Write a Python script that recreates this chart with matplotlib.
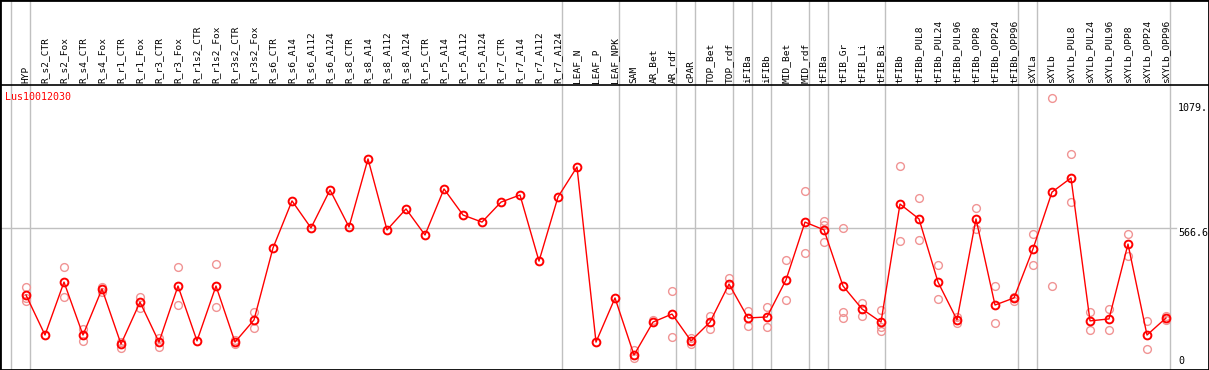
import matplotlib
matplotlib.use('Agg')
import matplotlib.pyplot as plt
import numpy as np

samples = ['HYP', 'R_s2_CTR', 'R_s2_Fox', 'R_s4_CTR', 'R_s4_Fox', 'R_r1_CTR', 'R_r1_Fox',
           'R_r3_CTR', 'R_r3_Fox', 'R_r1s2_CTR', 'R_r1s2_Fox', 'R_r3s2_CTR', 'R_r3s2_Fox',
           'R_s6_CTR', 'R_s6_A14', 'R_s6_A112', 'R_s6_A124', 'R_s8_CTR', 'R_s8_A14',
           'R_s8_A112', 'R_s8_A124', 'R_r5_CTR', 'R_r5_A14', 'R_r5_A112', 'R_r5_A124',
           'R_r7_CTR', 'R_r7_A14', 'R_r7_A112', 'R_r7_A124', 'LEAF_N', 'LEAF_P', 'LEAF_NPK',
           'SAM', 'AR_Bet', 'AR_rdf', 'cPAR', 'TOP_Bet', 'TOP_rdf', 'iFIBa', 'iFIBb',
           'MID_Bet', 'MID_rdf', 'tFIBa', 'tFIB_Gr', 'tFIB_Li', 'tFIB_Bi', 'tFIBb',
           'tFIBb_PUL8', 'tFIBb_PUL24', 'tFIBb_PUL96', 'tFIBb_OPP8', 'tFIBb_OPP24', 'tFIBb_OPP96',
           'sXYLa', 'sXYLb', 'sXYLb_PUL8', 'sXYLb_PUL24', 'sXYLb_PUL96', 'sXYLb_OPP8',
           'sXYLb_OPP24', 'sXYLb_OPP96']

# mean expression per sample
means = [291, 127, 344, 127, 316, 90, 262, 98, 328, 103, 328, 98, 189,
         484, 677, 566, 722, 570, 849, 558, 644, 537, 726, 619, 590, 672, 701, 430, 693,
         816, 98, 279, 45, 180, 213, 103, 180, 336, 197, 201, 353, 590, 558, 328, 234, 180,
         664, 603, 344, 189, 603, 250, 279, 480, 713, 771, 185, 193, 500, 127, 197]

# replicate values (where visible)
reps = [[324, 279, 266], [], [406, 283], [152, 103], [324, 303], [98, 74], [283, 238],
        [115, 78], [406, 250], [], [418, 242], [107, 90], [221, 156],
        [], [], [], [], [], [], [], [], [], [], [], [], [], [], [], [],
        [], [], [], [66, 33], [189], [308, 119], [115, 90], [205, 152], [361, 312],
        [226, 164], [242, 160], [435, 271], [718, 463], [595, 578, 508], [566, 221, 197],
        [258, 205], [230, 160, 144], [820, 513], [689, 517], [414, 275], [201, 176],
        [648, 562], [328, 176], [283, 266], [541, 414], [1099, 328], [869, 672],
        [221, 148], [234, 148], [541, 451], [185, 70], [205, 189]]

# last sample index of each group (vertical separators)
group_ends = [-1, 0, 28, 31, 34, 35, 37, 38, 39, 41, 42, 45, 52, 53, 60]

ytick_vals = [0, 566.6, 1079]
ytick_txt = ['0', '566.6', '1079.']
gene = 'Lus10012030'

W, H = 1209, 370
fig = plt.figure(figsize=(W / 100, H / 100), dpi=100)
ax = fig.add_axes([0, 0, 1, 1])

# pixel mapping: x = 26 + 19*i, y = 366 - 0.2439*v
px_per_col = 19.0
x0 = 26.0
sy = 0.2439
ax.set_xlim(-x0 / px_per_col, (W - x0) / px_per_col)
ax.set_ylim(-(H - 366) / sy, 366 / sy)

def ypix(p):
    return (366 - p) / sy

mono = 'DejaVu Sans Mono'

# grid lines
for g in group_ends:
    ax.axvline(g + 0.21, color='#c0c0c0', lw=1, zorder=1)
ax.plot([ax.get_xlim()[0], (1176 - x0) / px_per_col], [566.6, 566.6], color='#c0c0c0', lw=1, zorder=1)
ax.axhline(ypix(85), color='black', lw=1.2, zorder=2)

x = np.arange(len(samples))
for i, r in enumerate(reps):
    if r:
        ax.plot([i] * len(r), r, 'o', ms=5.6, mfc='none', mec='#f09494', mew=1.0, zorder=3)
ax.plot(x, means, '-', color='red', lw=1, zorder=4)
ax.plot(x, means, 'o', ms=5.6, mfc='none', mec='red', mew=1.4, zorder=5)

for i, s in enumerate(samples):
    ax.text(i, ypix(83), s, rotation=90, ha='center', va='bottom', family=mono, fontsize=6.8)

ax.text(-x0 / px_per_col + 5 / px_per_col, ypix(97), gene, color='red', family=mono,
        fontsize=7.2, ha='left', va='center')

xl = (1178 - x0) / px_per_col
for v, t in zip(ytick_vals, ytick_txt):
    if v == 0:
        ax.text(xl, v, t, ha='left', va='bottom', family=mono, fontsize=7.2)
    else:
        ax.text(xl, v, t, ha='left', va='top', family=mono, fontsize=7.2)

ax.set_xticks([])
ax.set_yticks([])
for sp in ax.spines.values():
    sp.set_linewidth(2)
    sp.set_color('black')

fig.savefig('out.png', dpi=100)
